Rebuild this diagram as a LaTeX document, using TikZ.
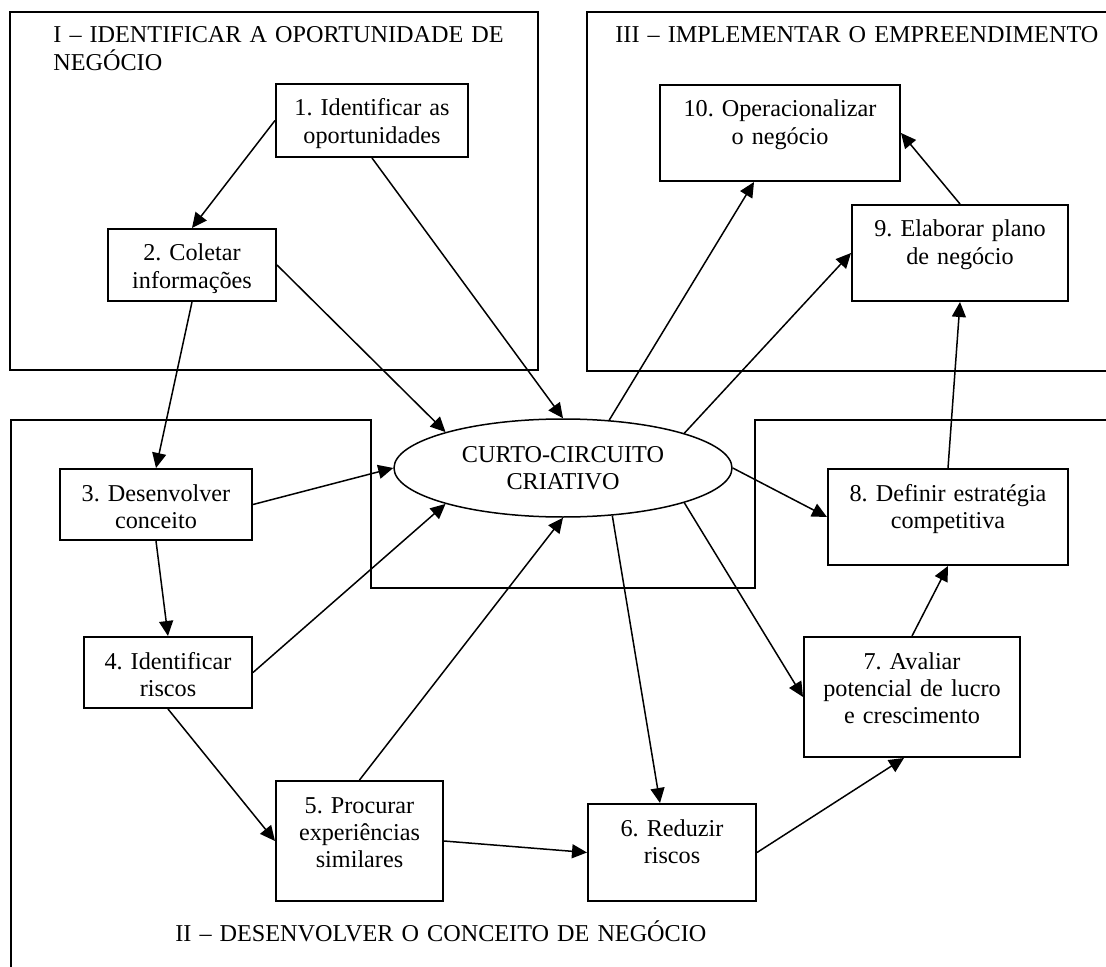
\documentclass[tikz,border=0pt]{standalone}
\usepackage{fontspec}
\setmainfont{Liberation Serif}
\usetikzlibrary{arrows.meta,shapes.geometric}
\begin{document}
\begin{tikzpicture}[x=0.5pt,y=-0.5pt,
  every node/.style={font=\fontsize{12.1pt}{13.6pt}\selectfont\frenchspacing},
  stepbox/.style={draw,line width=1pt,inner sep=0pt,align=center,anchor=north west,text height=16pt},
  frame/.style={line width=1pt},
  link/.style={line width=0.75pt,-{Triangle[length=7.5pt,width=7pt]}},
  title/.style={inner sep=0pt,anchor=base west,align=left,text width=300pt,font=\fontsize{12.1pt}{14pt}\selectfont\frenchspacing}]
\useasboundingbox (0,0) rectangle (1106,967);

% phase frames
\draw[frame] (10,12) rectangle (538,370);
\draw[frame] (1106,12) -- (587,12) -- (587,371) -- (1106,371);
\draw[frame] (1106,420) -- (755,420) -- (755,588) -- (371,588) -- (371,420) -- (11,420) -- (11,967);

% titles
\node[title] (t1) at (53,43) {I – IDENTIFICAR A OPORTUNIDADE DE\\NEGÓCIO};
\node[title] (t3) at (615,43) {III – IMPLEMENTAR O EMPREENDIMENTO};
\node[title] (t2) at (175,941) {II – DESENVOLVER O CONCEITO DE NEGÓCIO};

% steps
\node[stepbox,text width=96pt,text depth=20.5pt] (n1) at (275,83) {1. Identificar as\\oportunidades};
\node[stepbox,text width=84pt,text depth=20pt] (n2) at (107,228) {2. Coletar\\informações};
\node[stepbox,text width=96pt,text depth=19.5pt] (n3) at (59,468) {3. Desenvolver\\conceito};
\node[stepbox,text width=84pt,text depth=19.5pt] (n4) at (83,636) {4. Identificar\\riscos};
\node[stepbox,text width=83.5pt,text depth=44pt] (n5) at (275,780) {5. Procurar\\experiências\\similares};
\node[stepbox,text width=84pt,text depth=32.5pt] (n6) at (587,803) {6. Reduzir\\riscos};
\node[stepbox,text width=108pt,text depth=44pt] (n7) at (803,636) {7. Avaliar\\potencial de lucro\\e crescimento};
\node[stepbox,text width=120pt,text depth=32pt] (n8) at (827,468) {8. Definir estratégia\\competitiva};
\node[stepbox,text width=108pt,text depth=32pt] (n9) at (851,204) {9. Elaborar plano\\de negócio};
\node[stepbox,text width=120pt,text depth=32pt] (n10) at (659,84) {10. Operacionalizar\\o negócio};

% centre
\node[ellipse,draw,line width=0.75pt,minimum width=169pt,minimum height=49pt,inner sep=0pt,align=center] (E) at (563,468) {CURTO-CIRCUITO\\CRIATIVO};

% connectors
\draw[link] (n1.west) -- (n2.north);
\draw[link] (n1.south) -- (E.north);
\draw[link] (n2.east) -- (E.163);
\draw[link] (n2.south) -- (n3.north);
\draw[link] (n3.east) -- (E.west);
\draw[link] (n3.south) -- (n4.north);
\draw[link] (n4.east) -- (E.197);
\draw[link] (n4.south) -- (n5.west);
\draw[link] (n5.north) -- (E.south);
\draw[link] (n5.east) -- (n6.west);
\draw[link] (E.-44) -- ([xshift=-6pt]n6.north);
\draw[link] (E.-16) -- (n7.west);
\draw[link] (E.east) -- (n8.west);
\draw[link] (E.16) -- (n9.west);
\draw[link] (E.46) -- ([xshift=-13pt]n10.south);
\draw[link] (n6.east) -- ([xshift=-4pt]n7.south);
\draw[link] (n7.north) -- (n8.south);
\draw[link] (n8.north) -- (n9.south);
\draw[link] (n9.north) -- (n10.east);
\end{tikzpicture}
\end{document}
